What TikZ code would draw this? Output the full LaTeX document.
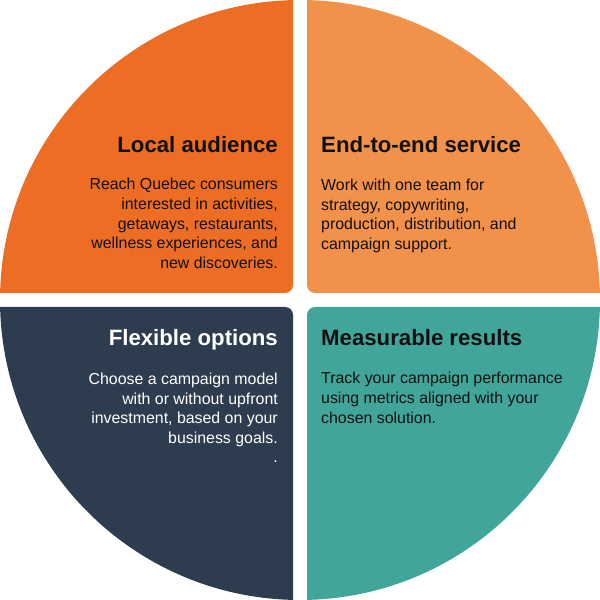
\documentclass[tikz,border=0pt]{standalone}
\usepackage{fontspec}
\setmainfont{Liberation Sans}
\definecolor{qtl}{HTML}{EC6D23}
\definecolor{qtr}{HTML}{F2914A}
\definecolor{qbl}{HTML}{2D3C4F}
\definecolor{qbr}{HTML}{42A59A}
\definecolor{ink}{HTML}{111111}
\newcommand\rlines[1]{\vtop{\halign{\hfil##\cr#1\crcr}}}
\newcommand\llines[1]{\vtop{\halign{##\hfil\cr#1\crcr}}}
\begin{document}
\begin{tikzpicture}[x=1pt,y=1pt,
  ttl/.style={inner sep=0pt,font=\fontsize{22.2}{26}\selectfont\bfseries,text=ink},
  bdy/.style={inner sep=0pt,font=\fontsize{15.9}{19.6}\selectfont,text=ink}]
\useasboundingbox (0,0) rectangle (600,600);
% quadrants
\fill[qtl] (0.08,307) -- (285,307) arc[start angle=-90,end angle=0,radius=8] -- (293,599.92)
  arc[start angle=91.337,end angle=178.663,radius=300] -- cycle;
\fill[qtr] (599.92,307) -- (315,307) arc[start angle=270,end angle=180,radius=8] -- (307,599.92)
  arc[start angle=88.663,end angle=1.337,radius=300] -- cycle;
\fill[qbl] (0.08,293) -- (285,293) arc[start angle=90,end angle=0,radius=8] -- (293,0.08)
  arc[start angle=268.663,end angle=181.337,radius=300] -- cycle;
\fill[qbr] (599.92,293) -- (315,293) arc[start angle=90,end angle=180,radius=8] -- (307,0.08)
  arc[start angle=271.337,end angle=358.663,radius=300] -- cycle;
% texts
\node[ttl,anchor=base east] (t1) at (278,447) {Local audience};
\node[bdy,anchor=base east] (b1) at (278,410) {\rlines{Reach Quebec consumers\cr interested in activities,\cr getaways, restaurants,\cr wellness experiences, and\cr new discoveries.}};
\node[ttl,anchor=base west] (t2) at (321,447) {End-to-end service};
\node[bdy,anchor=base west] (b2) at (321,409.5) {\llines{Work with one team for\cr strategy, copywriting,\cr production, distribution, and\cr campaign support.}};
\node[ttl,anchor=base east,text=white] (t3) at (278,254) {Flexible options};
\node[bdy,anchor=base east,text=white] (b3) at (278,215.5) {\rlines{Choose a campaign model\cr with or without upfront\cr investment, based on your\cr business goals.\cr .}};
\node[ttl,anchor=base west] (t4) at (321,254) {Measurable results};
\node[bdy,anchor=base west] (b4) at (321,216) {\llines{Track your campaign performance\cr using metrics aligned with your\cr chosen solution.}};
\end{tikzpicture}
\end{document}
